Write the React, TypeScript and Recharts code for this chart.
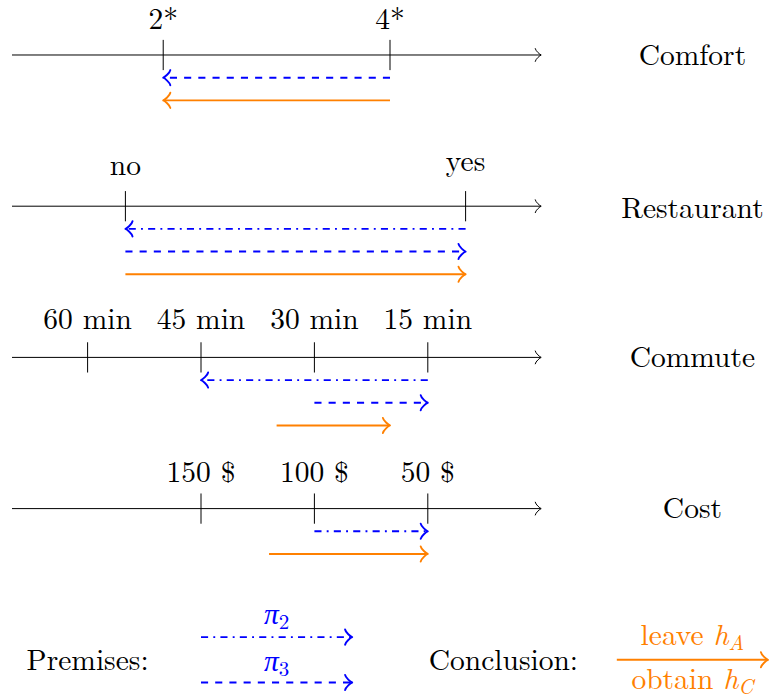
import { ComposedChart, XAxis, YAxis, ReferenceLine, Scatter } from "recharts";

// coordinate frame: 1 unit ~ 37.8px, axes start at x = 0, first axis at y = 0
const X_DOMAIN: [number, number] = [-0.3175, 20.132];
const Y_DOMAIN: [number, number] = [-17.037, 1.455];

const BLUE = "#0000ff";
const ORANGE = "#ff8000";
const FONT =
  '"Latin Modern Roman", "CMU Serif", "Liberation Serif", "Tinos", "Nimbus Roman", "FreeSerif", "Times New Roman", "DejaVu Serif", "Noto Serif", serif';

// criteria axes
const CRITERIA = ["Comfort", "Restaurant", "Commute", "Cost"];
const AXIS_Y = [0, -4, -8, -12];
const AXIS_END = 14;
const LABEL_X = 18;
const LABEL_Y = [-0.26, -4.3, -8.25, -12.25];

// tick positions + tick labels per criterion
const COMFORT_TICKS = [4, 10];
const COMFORT_LABELS = ["2*", "4*"];
const RESTAURANT_TICKS = [3, 12];
const RESTAURANT_LABELS = ["no", "yes"];
const RESTAURANT_LABEL_Y = [-3.17, -3.08];
const COMMUTE_TICKS = [2, 5, 8, 11];
const COMMUTE_LABELS = ["60 min", "45 min", "30 min", "15 min"];
const COST_TICKS = [5, 8, 11];
const COST_LABELS = ["150 $", "100 $", "50 $"];
const TICK_HALF = 0.4;

type Style = "dashdot" | "dashed" | "solid";

interface Arrow {
  from: number;
  to: number;
  y: number;
  style: Style;
}

// premise / conclusion arrows on each axis
const COMFORT_ARROWS: Arrow[] = [
  { from: 10, to: 4, y: -0.6, style: "dashed" },
  { from: 10, to: 4, y: -1.2, style: "solid" },
];
const RESTAURANT_ARROWS: Arrow[] = [
  { from: 12, to: 3, y: -4.6, style: "dashdot" },
  { from: 3, to: 12, y: -5.2, style: "dashed" },
  { from: 3, to: 12, y: -5.8, style: "solid" },
];
const COMMUTE_ARROWS: Arrow[] = [
  { from: 11, to: 5, y: -8.6, style: "dashdot" },
  { from: 8, to: 11, y: -9.2, style: "dashed" },
  { from: 7, to: 10, y: -9.8, style: "solid" },
];
const COST_ARROWS: Arrow[] = [
  { from: 8, to: 11, y: -12.6, style: "dashdot" },
  { from: 6.8, to: 11, y: -13.2, style: "solid" },
];
const LEGEND_ARROWS: Arrow[] = [
  { from: 5, to: 9, y: -15.4, style: "dashdot" },
  { from: 5, to: 9, y: -16.6, style: "dashed" },
  { from: 16, to: 20, y: -16, style: "solid" },
];

interface TextItem {
  x: number;
  y: number;
  text: string;
  math?: string;
  sub?: string;
  color?: string;
}

const LEGEND_TEXT: TextItem[] = [
  { x: 2, y: -16.27, text: "Premises:" },
  { x: 13, y: -16.27, text: "Conclusion:" },
  { x: 7, y: -15.05, text: "", math: "π", sub: "2", color: BLUE },
  { x: 7, y: -16.3, text: "", math: "π", sub: "3", color: BLUE },
  { x: 18, y: -15.6, text: "leave ", math: "h", sub: "A", color: ORANGE },
  { x: 18, y: -16.78, text: "obtain ", math: "h", sub: "C", color: ORANGE },
];

const DASH: Record<Style, string | undefined> = {
  dashed: "7.1 7.1",
  dashdot: "7.1 5.2 1.9 5.2",
  solid: undefined,
};

// pgf "to" arrow tip, drawn at (x2, y2) along the segment direction
function arrowShape(color: string, width: number, dash: string | undefined, u: number) {
  return (props: any) => {
    const { x1, y1, x2, y2 } = props;
    const len = Math.hypot(x2 - x1, y2 - y1) || 1;
    const ux = (x2 - x1) / len;
    const uy = (y2 - y1) / len;
    const p = (a: number, b: number) =>
      `${x2 + (a * ux - b * uy) * u},${y2 + (a * uy + b * ux) * u}`;
    const head =
      `M${p(-3.75, 4)} C${p(-3.5, 2.5)} ${p(-0.75, 0.25)} ${p(0, 0)} ` +
      `C${p(-0.75, -0.25)} ${p(-3.5, -2.5)} ${p(-3.75, -4)}`;
    const ex = x2 - ux * u * 0.3;
    const ey = y2 - uy * u * 0.3;
    return (
      <g>
        <line x1={x1} y1={y1} x2={ex} y2={ey} stroke={color} strokeWidth={width} strokeDasharray={dash} />
        <path d={head} fill="none" stroke={color} strokeWidth={width} strokeLinecap="round" strokeLinejoin="round" />
      </g>
    );
  };
}

function TextMark(props: any) {
  const { cx, cy, payload } = props;
  const item = payload as TextItem;
  const color = item.color ?? "#000";
  return (
    <text x={cx} y={cy} textAnchor="middle" fill={color} style={{ fontFamily: FONT, fontSize: 29.5 }}>
      {item.text}
      {item.math && <tspan fontStyle="italic">{item.math}</tspan>}
      {item.sub && (
        <tspan style={{ fontSize: 21 }} dy={5} fontStyle={/[A-Z]/.test(item.sub) ? "italic" : "normal"}>
          {item.sub}
        </tspan>
      )}
    </text>
  );
}

const ticksOf = (xs: number[], y: number) => xs.map((x) => ({ x, y }));

export default function App() {
  const tickLines = [
    ...ticksOf(COMFORT_TICKS, AXIS_Y[0]),
    ...ticksOf(RESTAURANT_TICKS, AXIS_Y[1]),
    ...ticksOf(COMMUTE_TICKS, AXIS_Y[2]),
    ...ticksOf(COST_TICKS, AXIS_Y[3]),
  ];

  const texts: TextItem[] = [
    ...COMFORT_TICKS.map((x, i) => ({ x, y: 0.69, text: COMFORT_LABELS[i] })),
    ...RESTAURANT_TICKS.map((x, i) => ({ x, y: RESTAURANT_LABEL_Y[i], text: RESTAURANT_LABELS[i] })),
    ...COMMUTE_TICKS.map((x, i) => ({ x, y: -7.25, text: COMMUTE_LABELS[i] })),
    ...COST_TICKS.map((x, i) => ({ x, y: -11.3, text: COST_LABELS[i] })),
    ...CRITERIA.map((c, i) => ({ x: LABEL_X, y: LABEL_Y[i], text: c })),
    ...LEGEND_TEXT,
  ];

  const arrows = [
    ...COMFORT_ARROWS,
    ...RESTAURANT_ARROWS,
    ...COMMUTE_ARROWS,
    ...COST_ARROWS,
    ...LEGEND_ARROWS,
  ];

  return (
    <div style={{ position: "absolute", left: 0, top: 0, background: "#fff" }}>
      <ComposedChart width={773} height={699} margin={{ top: 0, right: 0, bottom: 0, left: 0 }}>
        <XAxis type="number" dataKey="x" domain={X_DOMAIN} hide allowDataOverflow />
        <YAxis type="number" dataKey="y" domain={Y_DOMAIN} hide allowDataOverflow />

        {AXIS_Y.map((y, i) => (
          <ReferenceLine
            key={`axis-${i}`}
            segment={[{ x: 0, y }, { x: AXIS_END, y }]}
            ifOverflow="visible"
            shape={arrowShape("#000", 1, undefined, 1.6)}
          />
        ))}

        {tickLines.map((t, i) => (
          <ReferenceLine
            key={`tick-${i}`}
            segment={[{ x: t.x, y: t.y + TICK_HALF }, { x: t.x, y: t.y - TICK_HALF }]}
            ifOverflow="visible"
            stroke="#000"
            strokeWidth={1}
          />
        ))}

        {arrows.map((a, i) => (
          <ReferenceLine
            key={`arrow-${i}`}
            segment={[{ x: a.from, y: a.y }, { x: a.to, y: a.y }]}
            ifOverflow="visible"
            shape={arrowShape(a.style === "solid" ? ORANGE : BLUE, 1.9, DASH[a.style], 1.9)}
          />
        ))}

        <Scatter data={texts} shape={TextMark} isAnimationActive={false} />
      </ComposedChart>
    </div>
  );
}
